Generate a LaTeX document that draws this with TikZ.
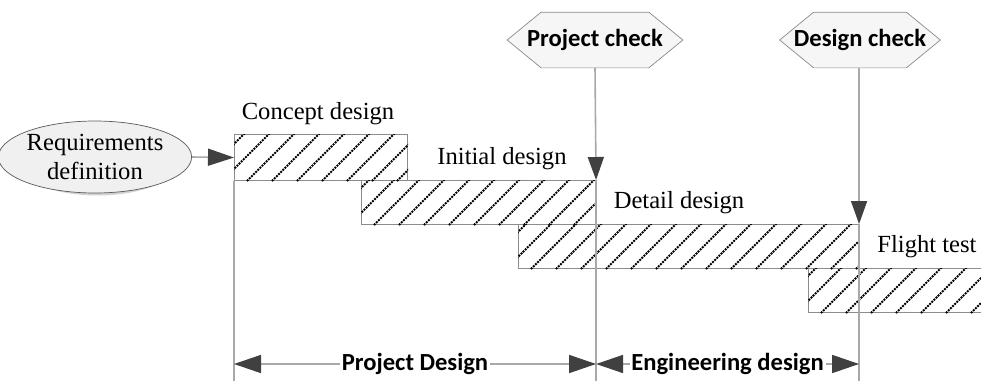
\documentclass[tikz,border=0pt]{standalone}
\usepackage{fontspec}
\setmainfont{Liberation Serif}
\newfontfamily\calib{Carlito}
\usetikzlibrary{arrows.meta,shapes.geometric,backgrounds,positioning,calc}

\definecolor{linegray}{RGB}{168,168,168}
\definecolor{tipgray}{RGB}{64,64,64}
\definecolor{edgegray}{RGB}{140,140,140}

% hexagon behind a check node
\newcommand{\hexframe}[1]{%
  \begin{scope}[on background layer]
    \fill[gray!35, xshift=0.5mm, yshift=-0.5mm] (#1.west) -- ([xshift=6.8mm]#1.north west) -- ([xshift=-6.8mm]#1.north east)
      -- (#1.east) -- ([xshift=-6.8mm]#1.south east) -- ([xshift=6.8mm]#1.south west) -- cycle;
    \draw[edgegray, fill=gray!7] (#1.west) -- ([xshift=6.8mm]#1.north west) -- ([xshift=-6.8mm]#1.north east)
      -- (#1.east) -- ([xshift=-6.8mm]#1.south east) -- ([xshift=6.8mm]#1.south west) -- cycle;
  \end{scope}}

\tikzset{
  hatchline/.style={black, line width=1.1pt, dash pattern=on 1.1pt off 0.6pt},
  phase/.style={draw=edgegray, line width=0.6pt, anchor=north west, inner sep=0pt,
    minimum height=8.8mm},
  phaselbl/.style={anchor=base, inner sep=0pt, font=\fontsize{14}{17}\selectfont},
  check/.style={minimum height=11mm, inner sep=0pt,
    font=\calib\bfseries\fontsize{14}{17}\selectfont},
  reqbox/.style={ellipse, draw=gray!70!black, fill=gray!12, minimum width=33.2mm,
    minimum height=14.4mm, inner sep=0pt, align=center,
    font=\fontsize{14}{16.5}\selectfont},
  vline/.style={linegray, line width=0.9pt},
  downtip/.style={-{Triangle[length=4.6mm, width=3.2mm, color=tipgray]}},
  dimline/.style={linegray, line width=0.9pt,
    {Triangle[length=5.4mm, width=3.6mm, color=tipgray]}-{Triangle[length=5.4mm, width=3.6mm, color=tipgray]}},
  dimlbl/.style={fill=white, text=black, inner xsep=1pt, inner ysep=0pt,
    font=\calib\bfseries\fontsize{14}{17}\selectfont},
}

\begin{document}
\begin{tikzpicture}[x=0.2mm, y=-0.2mm]
  \useasboundingbox (0,0) rectangle (981,381);
  \clip (0,0) rectangle (981,381);
  \coordinate (bot) at (0,381);
  \coordinate (dim) at (0,364);

  % phases
  \node[phase, minimum width=34.6mm, minimum height=9.2mm] (concept) at (234,134) {};
  \node[phase, minimum width=46.8mm] (initial) at (361,180) {};
  \node[phase, minimum width=68mm] (detail) at (518,224) {};
  \node[phase, minimum width=36.4mm] (flight) at (808,268) {};
  \foreach \b in {concept,initial,detail,flight}{
    \begin{scope}
      \clip (\b.south west) rectangle (\b.north east);
      \foreach \k in {-2,...,15}
        \draw[hatchline] ($(\b.south west)+(\k*25+13,0)$) -- ++(50,-50);
    \end{scope}}

  \node[phaselbl] (conceptlbl) at (318,119) {Concept design};
  \node[phaselbl] (initiallbl) at (502,164) {Initial design};
  \node[phaselbl] (detaillbl) at (679,208) {Detail design};
  \node[phaselbl] (flightlbl) at (927,252) {Flight test};

  % check points
  \node[check, minimum width=35mm] (pcheck) at (595,40) {Project check};
  \node[check, minimum width=32mm] (dcheck) at (860,40) {Design check};
  \hexframe{pcheck}
  \hexframe{dcheck}

  \fill[gray!35, xshift=0.5mm, yshift=-0.5mm] (95,157) ellipse (16.6mm and 7.2mm);
  \node[reqbox] (reqdef) at (95,157) {Requirements\\definition};

  \draw[vline] (concept.south west) -- (concept.south west |- bot);
  \draw[vline] (initial.north east) -- (initial.north east |- bot);
  \draw[vline] (detail.north east) -- (detail.north east |- bot);
  \draw[vline, downtip] (pcheck.south) -- (initial.north east);
  \draw[vline, downtip] (dcheck.south -| detail.north east) -- (detail.north east);
  \draw[vline, -{Triangle[length=5.2mm, width=3.4mm, color=tipgray]}] (reqdef.east) -- (concept.west);

  % time spans
  \draw[dimline] (concept.west |- dim) -- node[dimlbl] (pdlbl) {Project Design} (initial.east |- dim);
  \draw[dimline] (initial.east |- dim) -- node[dimlbl] (edlbl) {Engineering design} (detail.east |- dim);
\end{tikzpicture}
\end{document}
